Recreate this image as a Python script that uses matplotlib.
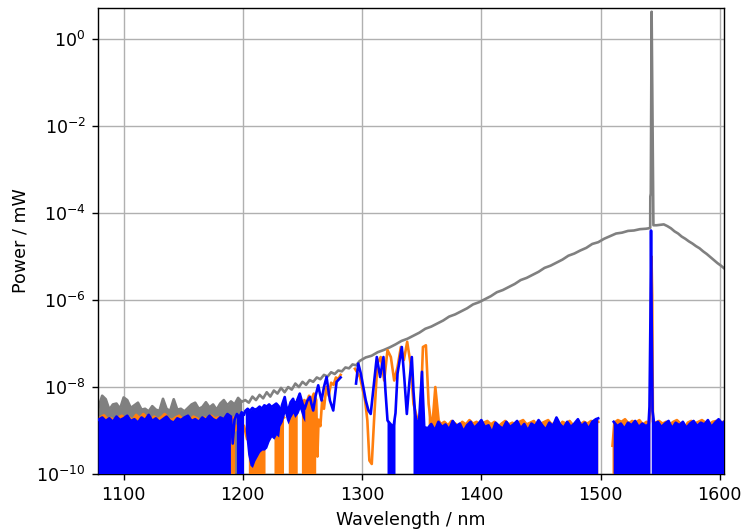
import numpy as np
import matplotlib
matplotlib.use("Agg")
import matplotlib.pyplot as plt
from matplotlib.ticker import NullLocator

nan = float("nan")

# ---------------- gray trace (wavelength nm, log10 power mW) ----------------
gray_wl = [
    1079, 1082, 1085, 1088, 1091, 1094, 1097, 1100, 1103, 1106,
    1109, 1112, 1115, 1118, 1121, 1124, 1127, 1130, 1133, 1136,
    1139, 1142, 1145, 1148, 1151, 1154, 1157, 1160, 1163, 1166,
    1169, 1172, 1175, 1178, 1181, 1184, 1187, 1190, 1193, 1196,
    1199,
    1202, 1205, 1208, 1211, 1214, 1217, 1220, 1223, 1226, 1229,
    1232, 1235, 1238, 1241, 1244, 1247, 1250, 1253, 1256, 1259,
    1262, 1265, 1268, 1271, 1274, 1277, 1280, 1283, 1286, 1289,
    1292, 1295, 1298,
    1303, 1308, 1313, 1318, 1323, 1328, 1333, 1338, 1343, 1348,
    1353, 1358, 1363, 1368, 1373, 1378, 1383, 1388, 1393, 1398,
    1403, 1408, 1413, 1418, 1423, 1428, 1433, 1438, 1443, 1448,
    1453, 1458, 1463, 1468, 1473, 1478, 1483, 1488, 1493, 1498,
    1503, 1508, 1513, 1518, 1523, 1528, 1533, 1538,
    1540.5, 1541.6, 1541.7, 1542.1, 1542.8, 1544.3,
    1547, 1550, 1553, 1556, 1559, 1562, 1565, 1568, 1571, 1574,
    1577, 1580, 1583, 1586, 1589, 1592, 1595, 1598, 1601, 1604,
]
gray_lg = [
    -8.45, -8.20, -8.28, -8.52, -8.40, -8.38, -8.50, -8.24, -8.30, -8.48,
    -8.42, -8.36, -8.52, -8.50, -8.56, -8.44, -8.52, -8.55, -8.27, -8.50,
    -8.55, -8.28, -8.52, -8.50, -8.56, -8.48, -8.40, -8.36, -8.50, -8.46,
    -8.35, -8.47, -8.40, -8.52, -8.38, -8.30, -8.42, -8.33, -8.40, -8.25,
    -8.34,
    -8.30, -8.36, -8.22, -8.30, -8.18, -8.26, -8.12, -8.22, -8.08, -8.15,
    -8.02, -8.12, -8.00, -8.06, -7.92, -8.00, -7.88, -7.95, -7.84, -7.88,
    -7.78, -7.82, -7.72, -7.76, -7.66, -7.70, -7.62, -7.64, -7.55, -7.57,
    -7.48, -7.50, -7.40,
    -7.32, -7.28, -7.20, -7.15, -7.09, -7.02, -6.94, -6.89, -6.82, -6.75,
    -6.66, -6.61, -6.54, -6.47, -6.38, -6.33, -6.26, -6.19, -6.10, -6.05,
    -5.98, -5.91, -5.82, -5.77, -5.70, -5.63, -5.54, -5.49, -5.42, -5.35,
    -5.26, -5.21, -5.14, -5.07, -4.98, -4.93, -4.86, -4.80, -4.71, -4.67,
    -4.59, -4.53, -4.47, -4.45, -4.41, -4.40, -4.37, -4.36,
    -4.35, -4.34, -3.62, -3.55, 0.63, -4.28,
    -4.28, -4.27, -4.26, -4.30, -4.35, -4.42, -4.47, -4.54, -4.59, -4.65,
    -4.70, -4.76, -4.81, -4.88, -4.94, -5.01, -5.08, -5.15, -5.21, -5.28,
]
gray_floor = [(1078, 1201)]

# ---------------- orange trace ----------------
orange_wl = [
    1080.5, 1083.5, 1086.5, 1089.5, 1092.5, 1095.5, 1098.5, 1101.5, 1104.5, 1107.5,
    1110.5, 1113.5, 1116.5, 1119.5, 1122.5, 1125.5, 1128.5, 1131.5, 1134.5, 1137.5,
    1140.5, 1143.5, 1146.5, 1149.5, 1152.5, 1155.5, 1158.5, 1161.5, 1164.5, 1167.5,
    1170.5, 1173.5, 1176.5, 1179.5, 1182.5, 1185.5, 1188.5,
    1190.5, 1192.0, 1193.5, 1195.0, 1198.0, 1201.0, 1203.5,
    1205, 1207, 1209, 1211, 1213, 1215, 1217, 1219,
    1222.5,
    1226.5, 1228.5, 1230.5, 1232.5, 1234.5,
    1236.5,
    1238.5, 1240.5, 1242.5, 1244.5, 1246.0,
    1247.5,
    1249.5, 1251.5, 1253.5, 1255.5, 1257.5, 1259.5, 1261.5,
    1262.5, 1263.5, 1265.0, 1266.5, 1268.0, 1270.0, 1272.0, 1274.0, 1276.0, 1278.0,
    1280.0, 1282.0,
    1288.0,
    1294.0, 1298.2, 1302.5, 1304.4, 1306.1, 1308.1, 1310.0, 1312.8, 1315.6, 1318.5,
    1321.3, 1324.1, 1326.9, 1329.7, 1332.5, 1335.0, 1337.8, 1340.6, 1343.1, 1345.9,
    1348.8, 1351.0, 1353.5, 1355.8, 1358.6, 1361.4, 1364.2,
    1366, 1369, 1372, 1375, 1378, 1381, 1384, 1387, 1390, 1393,
    1396, 1399, 1402, 1405, 1408, 1411, 1414, 1417, 1420, 1423,
    1426, 1429, 1432, 1435, 1438, 1441, 1444, 1447, 1450, 1453,
    1456, 1459, 1462, 1465, 1468, 1471, 1474, 1477, 1480, 1483,
    1486, 1489, 1492, 1495, 1498,
    1504,
    1510.0,
    1511.5, 1514.5, 1517.5, 1520.5, 1523.5, 1526.5, 1529.5, 1532.5, 1535.5, 1538.5,
    1540.5, 1541.6, 1542.3, 1542.7, 1543.3, 1543.9,
    1546, 1549, 1552, 1555, 1558, 1561, 1564, 1567, 1570, 1573,
    1576, 1579, 1582, 1585, 1588, 1591, 1594, 1597, 1600, 1603,
]
orange_lg = [
    -8.70, -8.65, -8.74, -8.72, -8.78, -8.70, -8.66, -8.74, -8.70, -8.76,
    -8.64, -8.72, -8.62, -8.70, -8.76, -8.68, -8.74, -8.70, -8.62, -8.72,
    -8.76, -8.70, -8.66, -8.74, -8.70, -8.76, -8.68, -8.72, -8.78, -8.70,
    -8.74, -8.66, -8.72, -8.70, -8.76, -8.68, -8.72,
    -8.80, -8.70, -9.00, -8.90, -8.80, -8.90, -9.20,
    -9.10, -8.95, -9.05, -8.92, -9.00, -8.88, -8.95, -9.00,
    nan,
    -8.75, -8.68, -8.72, -8.62, -8.70,
    nan,
    -8.55, -8.45, -8.50, -8.42, -8.50,
    nan,
    -8.40, -8.30, -8.35, -8.20, -8.28, -8.15, -8.30,
    -9.60, -8.75, -8.90, -8.30, -8.50, -8.00, -8.20, -7.90, -7.95, -7.78,
    -7.82, -7.72,
    nan,
    -7.58, -7.77, -8.31, -8.77, -9.69, -9.77, -8.77, -7.46, -7.31, -7.85,
    -7.15, -7.31, -7.85, -7.54, -7.08, -7.38, -6.96, -7.46, -8.39, -8.69,
    -8.77, -7.08, -7.04, -8.39, -9.00, -8.00, -8.77,
    -8.85, -8.80, -8.88, -8.78, -8.84, -8.90, -8.80, -8.86, -8.76, -8.84,
    -8.80, -8.90, -8.82, -8.78, -8.86, -8.80, -8.92, -8.84, -8.78, -8.86,
    -8.82, -8.88, -8.80, -8.76, -8.86, -8.82, -8.78, -8.90, -8.84, -8.80,
    -8.76, -8.86, -8.82, -8.92, -8.80, -8.84, -8.78, -8.88, -8.82, -8.86,
    -8.80, -8.84, -8.78, -8.82, -8.80,
    nan,
    -9.35,
    -8.82, -8.76, -8.80, -8.74, -8.84, -8.78, -8.82, -8.76, -8.86, -8.80,
    -8.85, -8.50, -6.30, -5.00, -5.90, -8.80,
    -8.82, -8.78, -8.84, -8.80, -8.86, -8.80, -8.76, -8.84, -9.05, -8.82,
    -8.78, -8.84, -8.80, -8.76, -8.82, -8.86, -8.80, -8.78, -8.82, -8.80,
]
orange_floor = [(1078, 1194), (1204.5, 1219.5), (1226, 1235), (1238, 1246.5),
                (1249, 1262), (1355.5, 1498.5), (1509.5, 1542.1), (1543.8, 1604)]

# ---------------- blue trace ----------------
blue_wl = [
    1079, 1082, 1085, 1088, 1091, 1094, 1097, 1100, 1103, 1106,
    1109, 1112, 1115, 1118, 1121, 1124, 1127, 1130, 1133, 1136,
    1139, 1142, 1145, 1148, 1151, 1154, 1157, 1160, 1163, 1166,
    1169, 1172, 1175, 1178, 1181, 1184, 1187, 1190,
    1191.5, 1193, 1195, 1197, 1199, 1201,
    1202, 1204, 1206, 1208, 1210, 1212, 1214, 1216, 1218, 1220,
    1222, 1224, 1226, 1228, 1230,
    1231.0, 1233.0, 1235.1, 1236.5, 1237.9, 1240.0, 1242.1, 1243.5, 1244.9, 1246.3,
    1247.7, 1250.0, 1251.9, 1254.0, 1256.2, 1257.6, 1259.0, 1261.0, 1263.2, 1264.6,
    1266.0, 1268.0, 1270.2, 1271.6, 1273.0, 1275.8, 1277.2, 1278.6, 1282.0,
    1288.0,
    1294.9, 1296.8, 1299.0, 1301.0, 1303.0, 1305.3, 1307.2, 1309.8, 1312.3, 1315.1,
    1317.9, 1319.6, 1321.3, 1323.8, 1326.3, 1328.0, 1329.7, 1333.3, 1335.4, 1337.5,
    1339.6, 1341.7, 1343.1, 1344.5, 1347.3, 1350.2, 1352.1,
    1355, 1358, 1361, 1364, 1367, 1370, 1373, 1376, 1379, 1382,
    1385, 1388, 1391, 1394, 1397, 1400, 1403, 1406, 1409, 1412,
    1415, 1418, 1421, 1424, 1427, 1430, 1433, 1436, 1439, 1442,
    1445, 1448, 1451, 1454, 1457, 1460, 1463, 1466, 1469, 1472,
    1475, 1478, 1481, 1484, 1487, 1490, 1493, 1496,
    1498,
    1504,
    1511, 1514, 1517, 1520, 1523, 1526, 1529, 1532, 1535, 1538,
    1540.2, 1541.0, 1541.8, 1542.3, 1542.9, 1543.6,
    1545, 1548, 1551, 1554, 1557, 1560, 1563, 1566, 1569, 1572,
    1575, 1578, 1581, 1584, 1587, 1590, 1593, 1596, 1599, 1602,
    1603.5,
]
blue_lg = [
    -8.75, -8.70, -8.78, -8.72, -8.80, -8.68, -8.76, -8.72, -8.66, -8.78,
    -8.74, -8.82, -8.70, -8.76, -8.64, -8.78, -8.72, -8.80, -8.74, -8.68,
    -8.78, -8.82, -8.72, -8.76, -8.70, -8.66, -8.78, -8.74, -8.80, -8.70,
    -8.76, -8.66, -8.74, -8.78, -8.70, -8.74, -8.62, -8.68,
    -9.30, -8.75, -8.62, -8.70, -8.58, -8.64,
    -8.55, -8.50, -8.55, -8.48, -8.52, -8.50, -8.45, -8.50, -8.42, -8.45,
    -8.40, -8.46, -8.42, -8.38, -8.44,
    -8.62, -8.40, -8.23, -8.45, -8.54, -8.35, -8.27, -8.40, -8.35, -8.25,
    -8.15, -8.38, -8.50, -8.32, -8.23, -8.40, -8.54, -8.20, -7.96, -8.15,
    -8.31, -8.00, -7.77, -8.05, -8.31, -8.54, -8.20, -7.88, -7.78,
    nan,
    -7.92, -7.46, -7.70, -8.00, -8.30, -8.54, -8.62, -7.95, -7.31, -7.77,
    -7.31, -8.10, -8.77, -8.85, -8.92, -8.60, -7.69, -7.08, -7.80, -8.62,
    -7.90, -7.31, -8.10, -8.62, -9.00, -7.65, -8.92,
    -8.95, -8.85, -9.00, -8.80, -8.92, -8.86, -8.98, -8.78, -8.90, -8.84,
    -9.02, -8.88, -8.80, -8.94, -8.86, -8.76, -8.92, -8.88, -9.05, -8.82,
    -8.90, -8.96, -8.80, -8.92, -8.86, -8.78, -8.95, -8.85, -9.00, -8.84,
    -8.90, -8.76, -8.88, -8.98, -8.82, -8.90, -8.70, -8.86, -8.94, -8.80,
    -8.92, -8.84, -8.74, -8.90, -8.82, -8.96, -8.80, -8.74,
    -8.72,
    nan,
    -8.80, -8.90, -8.84, -8.96, -8.82, -8.88, -8.78, -8.92, -8.84, -8.90,
    -8.86, -8.45, -6.40, -4.40, -6.60, -8.55,
    -8.86, -8.80, -8.92, -8.84, -8.78, -8.95, -8.82, -8.88, -8.80, -8.94,
    -8.84, -8.78, -8.90, -8.82, -8.86, -8.76, -8.92, -8.82, -8.74, -8.84,
    -8.80,
]
blue_floor = [(1078, 1190.6), (1194.0, 1201.5), (1320.5, 1329.0), (1342.5, 1350.6),
              (1351.4, 1498.3), (1510.8, 1542.1), (1542.6, 1604)]
# lower edge (log10 mW) of the noisy blue band for the points 1202 ... 1251.9
blue_band_lo = [
    -9.00, -9.55, -9.80, -9.85, -9.70, -9.60, -9.50, -9.45, -9.45, -9.40,
    -9.25, -9.15, -9.20, -9.10, -9.15,
    -8.90, -8.80, -8.60, -8.75, -8.85, -8.70, -8.60, -8.70, -8.65, -8.60,
    -8.50, -8.70, -8.80,
]
blue_band = (1201.5, 1252.5)

assert len(gray_wl) == len(gray_lg)
assert len(orange_wl) == len(orange_lg)
assert len(blue_wl) == len(blue_lg)

DPI = 126
fig = plt.figure(figsize=(741 / DPI, 529 / DPI), dpi=DPI)
ax = fig.add_axes([98 / 741, 55 / 529, 626 / 741, 466 / 529])


def draw(wl, lg, floor_ranges, color, z, band=None, band_lo=None):
    wl = np.asarray(wl, dtype=float)
    p = 10.0 ** np.asarray(lg, dtype=float)
    ok = np.isfinite(p)
    mask = np.zeros(len(wl), dtype=bool)
    for a, b in floor_ranges:
        mask |= (wl >= a) & (wl <= b)
    mask &= ok
    ax.fill_between(wl, 1e-12, np.where(ok, p, 1e-12), where=mask,
                    color=color, linewidth=0, zorder=z)
    if band is not None:
        bm = (wl >= band[0]) & (wl <= band[1])
        assert bm.sum() == len(band_lo)
        ax.fill_between(wl[bm], 10.0 ** np.asarray(band_lo), p[bm],
                        color=color, linewidth=0, zorder=z)
    ax.plot(wl, p, color=color, lw=1.5, zorder=z + 0.5)


draw(gray_wl, gray_lg, gray_floor, "#808080", 2)
draw(orange_wl, orange_lg, orange_floor, "#ff7f0e", 3)
draw(blue_wl, blue_lg, blue_floor, "#0000ff", 4, blue_band, blue_band_lo)

ax.set_yscale("log")
ax.set_xlim(1078.5, 1603.5)
ax.set_ylim(1e-10, 5.2)
ax.set_yticks([10.0 ** k for k in range(-10, 1, 2)])
ax.yaxis.set_minor_locator(NullLocator())
ax.set_xticks([1100, 1200, 1300, 1400, 1500, 1600])
ax.grid(True, color="#b0b0b0", lw=0.8)
ax.set_axisbelow(True)
ax.set_xlabel("Wavelength / nm")
ax.set_ylabel("Power / mW")

fig.savefig("out.png", dpi=DPI)
